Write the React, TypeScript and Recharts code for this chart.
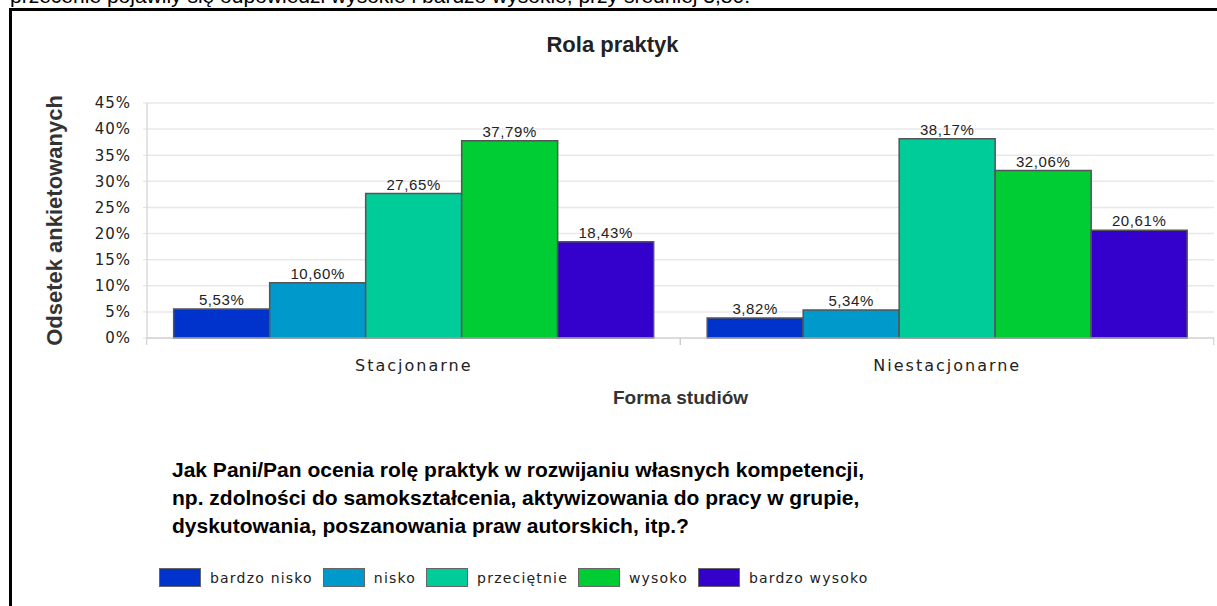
import { Bar, BarChart, CartesianGrid, LabelList, Legend, XAxis, YAxis } from "recharts";

const categories = ["Stacjonarne", "Niestacjonarne"];
const seriesNames = ["bardzo nisko", "nisko", "przeciętnie", "wysoko", "bardzo wysoko"];
const bardzoNisko = [5.53, 3.82];
const nisko = [10.6, 5.34];
const przecietnie = [27.65, 38.17];
const wysoko = [37.79, 32.06];
const bardzoWysoko = [18.43, 20.61];
const yTicks = [0, 5, 10, 15, 20, 25, 30, 35, 40, 45];
const colors = ["#0033cc", "#0099cc", "#00cc99", "#00cc33", "#3300cc"];

const seriesValues = [bardzoNisko, nisko, przecietnie, wysoko, bardzoWysoko];
const data = categories.map((name, i) => {
  const row: Record<string, string | number> = { name };
  seriesValues.forEach((vals, s) => {
    row[`s${s}`] = vals[i];
  });
  return row;
});

const pct = (v: number) => `${v.toFixed(2).replace(".", ",")}%`;
const pixelFont = "'DejaVu Sans', Verdana, sans-serif";
const arial = "'Liberation Sans', Arial, sans-serif";

function CategoryTick({ x, y, payload }: any) {
  const band = 533;
  return (
    <g>
      <line x1={x - band / 2 - 0.5} x2={x - band / 2 - 0.5} y1={y - 8} y2={y - 1} stroke="#c8c8c8" />
      <line x1={x + band / 2} x2={x + band / 2} y1={y - 8} y2={y - 1} stroke="#c8c8c8" />
      <text
        x={x}
        y={y + 25}
        textAnchor="middle"
        fontSize={16}
        letterSpacing={2}
        fontFamily={pixelFont}
        fill="#222"
      >
        {payload.value}
      </text>
    </g>
  );
}

function LegendContent({ payload }: any) {
  const items = [...(payload || [])].sort(
    (a: any, b: any) => seriesNames.indexOf(a.value) - seriesNames.indexOf(b.value)
  );
  return (
    <div
      style={{
        display: "flex",
        alignItems: "center",
        fontFamily: pixelFont,
        fontSize: 14,
        letterSpacing: 1.2,
        color: "#222",
        whiteSpace: "nowrap",
      }}
    >
      {items.map((p: any) => (
        <div key={p.value} style={{ display: "flex", alignItems: "center", marginRight: 10 }}>
          <span
            style={{
              display: "inline-block",
              width: 42,
              height: 19,
              background: p.color,
              border: "1px solid #666",
              boxSizing: "border-box",
              marginRight: 9,
            }}
          />
          <span>{p.value}</span>
        </div>
      ))}
    </div>
  );
}

export default function App() {
  return (
    <div
      style={{
        position: "absolute",
        left: 0,
        top: 0,
        width: 1217,
        height: 606,
        overflow: "hidden",
        background: "#fff",
        fontFamily: arial,
      }}
    >
      <div
        style={{
          position: "absolute",
          left: 10,
          top: -16,
          fontSize: 21,
          lineHeight: "24px",
          whiteSpace: "nowrap",
          color: "#000",
        }}
      >
        przecenie pojawiły się odpowiedzi wysokie i bardzo wysokie, przy średniej 3,80.
      </div>
      <div
        style={{
          position: "absolute",
          left: 9,
          top: 8,
          width: 1300,
          height: 700,
          border: "3px solid #000",
        }}
      />
      <div
        style={{
          position: "absolute",
          left: 0,
          width: 1217,
          top: 32,
          textAlign: "center",
          paddingLeft: 8,
          boxSizing: "border-box",
          fontWeight: "bold",
          fontSize: 22,
          color: "#222",
        }}
      >
        Rola praktyk
      </div>
      <div style={{ position: "absolute", left: 0, top: 0 }}>
        <BarChart
          width={1217}
          height={606}
          data={data}
          margin={{ top: 103, right: 3, left: 0, bottom: 198 }}
          barCategoryGap="5%"
          barGap={0}
        >
          <CartesianGrid vertical={false} stroke="#e8e8e8" strokeWidth={1.5} />
          <XAxis
            dataKey="name"
            height={70}
            axisLine={{ stroke: "#c8c8c8" }}
            tickLine={false}
            tick={<CategoryTick />}
            interval={0}
            label={{
              value: "Forma studiów",
              position: "insideBottom",
              offset: 4,
              fontWeight: "bold",
              fontSize: 19,
              fill: "#333",
            }}
          />
          <YAxis
            width={147}
            domain={[0, 45]}
            ticks={yTicks}
            interval={0}
            tickFormatter={(v) => `${v}%`}
            axisLine={{ stroke: "#c8c8c8" }}
            tickLine={{ stroke: "#e0e0e0" }}
            tickSize={4}
            tickMargin={12}
            tick={{ fontSize: 15, fontFamily: pixelFont, fill: "#222", letterSpacing: 1 }}
            label={{
              value: "Odsetek ankietowanych",
              angle: -90,
              position: "insideLeft",
              offset: 54,
              fontWeight: "bold",
              fontSize: 22,
              fill: "#333",
              style: { textAnchor: "middle" },
            }}
          />
          {seriesNames.map((n, s) => (
            <Bar
              key={n}
              dataKey={`s${s}`}
              name={n}
              fill={colors[s]}
              stroke="#555"
              strokeWidth={1.5}
              isAnimationActive={false}
            >
              <LabelList
                dataKey={`s${s}`}
                position="top"
                offset={4}
                formatter={(v: any) => pct(Number(v))}
                style={{ fontSize: 15, fill: "#222", fontFamily: arial, letterSpacing: 0.6 }}
              />
            </Bar>
          ))}
          <Legend
            verticalAlign="middle"
            layout="horizontal"
            content={<LegendContent />}
            wrapperStyle={{ left: 159, top: 568, width: "auto" }}
          />
        </BarChart>
      </div>
      <div
        style={{
          position: "absolute",
          left: 172,
          top: 456,
          fontWeight: "bold",
          fontSize: 21,
          lineHeight: "28px",
          color: "#000",
          whiteSpace: "nowrap",
        }}
      >
        Jak Pani/Pan ocenia rolę praktyk w rozwijaniu własnych kompetencji,
        <br />
        np. zdolności do samokształcenia, aktywizowania do pracy w grupie,
        <br />
        dyskutowania, poszanowania praw autorskich, itp.?
      </div>
    </div>
  );
}
